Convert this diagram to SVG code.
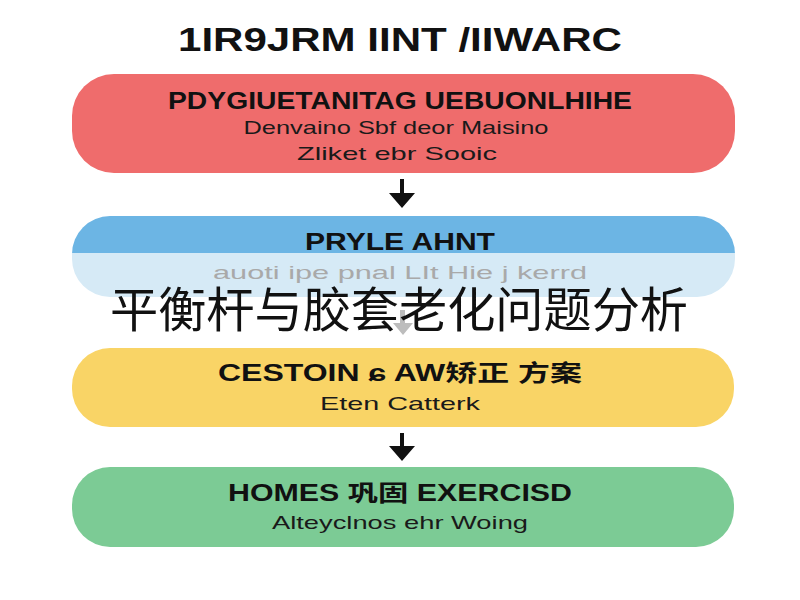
<svg xmlns="http://www.w3.org/2000/svg" width="800" height="600" viewBox="0 0 800 600">
  <defs>
    <style>
      .t{font-family:"Liberation Sans","Noto Sans CJK SC",Arial,sans-serif;text-anchor:middle;dominant-baseline:central}
      .h{font-weight:bold;fill:#111;font-size:23px}
      .s{fill:#1a1a1a;font-size:19px}
      .arr{fill:#111}
    </style>
    <clipPath id="clipBlue"><rect x="72" y="216" width="663" height="81" rx="38"/></clipPath>
  </defs>
  <rect width="800" height="600" fill="#fff"/>
  <text class="t" x="400" y="39" font-size="34" font-weight="bold" fill="#111" textLength="444" lengthAdjust="spacingAndGlyphs">1IR9JRM IINT /IIWARC</text>

  <g id="node-red">
    <rect x="72" y="74" width="663" height="99" rx="42" fill="#EF6C6C"/>
    <text class="t h" x="400" y="101" textLength="464" lengthAdjust="spacingAndGlyphs">PDYGIUETANITAG UEBUONLHIHE</text>
    <text class="t s" x="396" y="127" textLength="305" lengthAdjust="spacingAndGlyphs">Denvaino Sbf deor Maisino</text>
    <text class="t s" x="397" y="153" textLength="200" lengthAdjust="spacingAndGlyphs">Zliket ebr Sooic</text>
  </g>

  <g id="node-blue">
    <g clip-path="url(#clipBlue)">
      <rect x="72" y="216" width="663" height="37" fill="#6CB5E4"/>
      <rect x="72" y="253" width="663" height="44" fill="#D6EAF6"/>
    </g>
    <text class="t h" x="400" y="242" textLength="190" lengthAdjust="spacingAndGlyphs">PRYLE AHNT</text>
    <text class="t" x="400" y="272" font-size="19" fill="#a9a9a9" textLength="374" lengthAdjust="spacingAndGlyphs">auoti ipe pnal LIt Hie j kerrd</text>
  </g>

  <g id="node-yellow">
    <rect x="72" y="348" width="662" height="79" rx="38" fill="#F9D466"/>
    <text class="t h" x="400" y="373" textLength="364" lengthAdjust="spacingAndGlyphs">CESTOIN ɕ AW矫正 方案</text>
    <text class="t s" x="400" y="403" textLength="160" lengthAdjust="spacingAndGlyphs">Eten Catterk</text>
  </g>

  <g id="node-green">
    <rect x="72" y="467" width="662" height="80" rx="38" fill="#7CCB95"/>
    <text class="t h" x="400" y="493" textLength="344" lengthAdjust="spacingAndGlyphs">HOMES 巩固 EXERCISD</text>
    <text class="t s" x="400" y="522" textLength="256" lengthAdjust="spacingAndGlyphs">Alteyclnos ehr Woing</text>
  </g>

  <g id="connectors">
    <path class="arr" d="M400 179 H404 V193 H415 L402 208 L389 193 H400 Z"/>
    <path d="M400 310 H405 V323 H413 L403 335 L393 323 H400 Z" fill="#bdbdbd"/>
    <path class="arr" d="M400 433 H404 V446 H415 L402 461 L389 446 H400 Z"/>
  </g>

  <text class="t" x="399" y="310" font-size="48" fill="#111" textLength="578" lengthAdjust="spacingAndGlyphs">平衡杆与胶套老化问题分析</text>
</svg>
